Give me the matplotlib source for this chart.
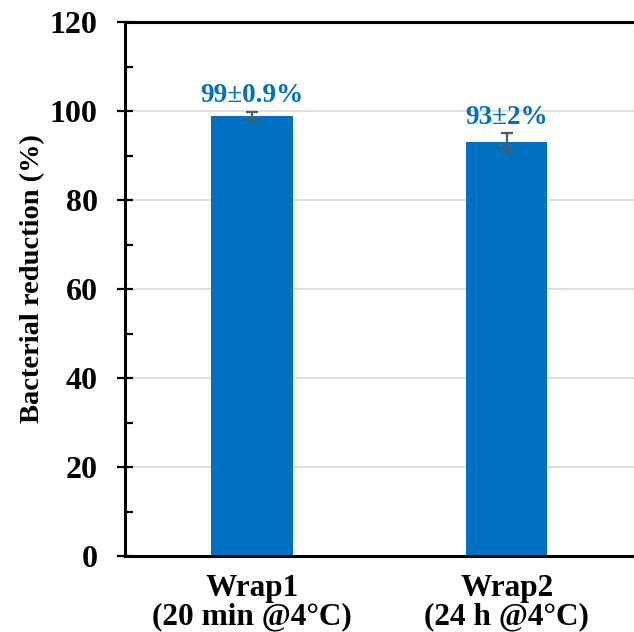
import matplotlib
matplotlib.use("Agg")
import matplotlib.pyplot as plt
import numpy as np
from matplotlib.ticker import MultipleLocator

categories = ["Wrap1\n(20 min @4°C)", "Wrap2\n(24 h @4°C)"]
reduction = [99, 93]
errors = [0.9, 2]
value_labels = ["99±0.9%", "93±2%"]

plt.rcParams["font.family"] = ["Liberation Serif", "DejaVu Serif"]
plt.rcParams["font.weight"] = "bold"

BLUE = "#0070C0"

fig = plt.figure(figsize=(6.34, 6.32), dpi=100)
ax = fig.add_axes([0.197, 0.120, 0.803, 0.845])

x = np.arange(len(categories)) + 0.5
ax.bar(x, reduction, width=0.32, color=BLUE, zorder=2)
ax.errorbar(x, reduction, yerr=errors, fmt="none", ecolor="#595959",
            elinewidth=1.6, capsize=4.5, capthick=1.6, zorder=3)
for xi, val, err, lab in zip(x, reduction, errors, value_labels):
    ax.annotate(lab, (xi, val + err), xytext=(0, 7), textcoords="offset points",
                ha="center", va="baseline", color=BLUE, fontsize=19.5,
                fontweight="bold")

ax.set_xlim(0, len(categories))
ax.set_ylim(0, 120)
ax.set_xticks(x)
ax.set_xticklabels(categories, fontsize=22.5, fontweight="bold", linespacing=0.95)
ax.tick_params(axis="x", length=0, pad=13)
ax.yaxis.set_major_locator(MultipleLocator(20))
ax.yaxis.set_minor_locator(MultipleLocator(10))
ax.tick_params(axis="y", which="major", direction="inout", length=12,
               width=1.6, labelsize=23, pad=13.5)
ax.tick_params(axis="y", which="minor", direction="in", length=6, width=1.6)
for t in ax.get_yticklabels():
    t.set_fontweight("bold")

ax.yaxis.grid(True, color="#D9D9D9", linewidth=1.2, zorder=0)
ax.set_axisbelow(True)

ax.spines["left"].set_linewidth(2.2)
ax.spines["bottom"].set_linewidth(2.2)
ax.spines["top"].set_linewidth(2.2)
ax.spines["right"].set_color("#BFBFBF")
ax.spines["right"].set_linewidth(1.0)

ax.set_ylabel("Bacterial reduction (%)", fontsize=20.5, fontweight="bold")
ax.yaxis.set_label_coords(-0.156, 0.52)

fig.savefig("out.png", dpi=100, facecolor="white")
